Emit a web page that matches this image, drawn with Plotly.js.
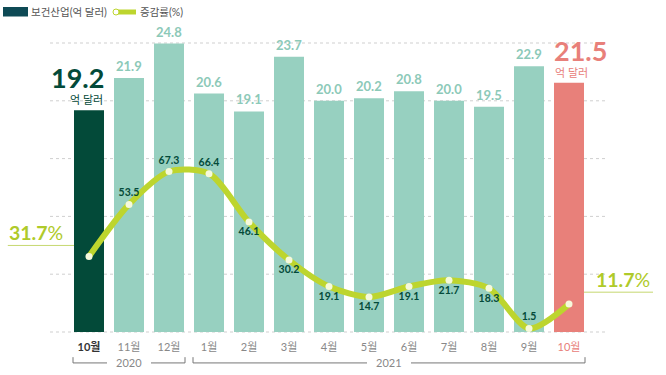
<!DOCTYPE html>
<html><head><meta charset="utf-8">
<script src="https://cdn.plot.ly/plotly-3.0.1.min.js"></script>
<style>body{margin:0;background:#fff}#c{width:666px;height:375px}</style>
</head><body><div id="c"></div>
<script>
const months = ["10월","11월","12월","1월","2월","3월","4월","5월","6월","7월","8월","9월","10월"];
const years = ["2020","2021"];
const yearStart = [0, 3];
const yearEnd = [2, 12];
const exports = [19.2, 21.9, 24.8, 20.6, 19.1, 23.7, 20.0, 20.2, 20.8, 20.0, 19.5, 22.9, 21.5];
const growth = [31.7, 53.5, 67.3, 66.4, 46.1, 30.2, 19.1, 14.7, 19.1, 21.7, 18.3, 1.5, 11.7];
const growthAbove = [false, true, true, true, false, false, false, false, false, false, false, true, false];

const DARK = '#034a39', TEAL = '#97d0c0', TEAL_TXT = '#8cc9b8', SALMON = '#e8807a', LIME = '#bdd52e';
const n = months.length;
const idx = months.map((m, i) => i);
const FONT = 'Lato, "Noto Sans CJK KR", sans-serif';

const barColors = idx.map(i => i === 0 ? DARK : (i === n - 1 ? SALMON : TEAL));
const lineText = growth.map((g, i) => (i === 0 || i === n - 1) ? '' : g.toFixed(1));
const linePos = growthAbove.map(a => a ? 'top center' : 'bottom center');

const ticktext = months.map((m, i) => i === 0 ? '<b style="color:#333">' + m + '</b>' :
  (i === n - 1 ? '<span style="color:' + SALMON + '">' + m + '</span>' : m));

const traces = [
  {type: 'bar', x: idx, y: exports, marker: {color: barColors}, width: 0.75, hoverinfo: 'skip', yaxis: 'y'},
  {type: 'scatter', mode: 'lines+markers+text', x: idx, y: growth, yaxis: 'y2',
   line: {color: LIME, width: 6, shape: 'spline', smoothing: 0.8},
   marker: {color: '#f6f9dc', size: 7},
   text: lineText, textposition: linePos,
   textfont: {family: FONT, size: 10.5, color: DARK, weight: 'bold'},
   cliponaxis: false, hoverinfo: 'skip'}
];

const annotations = [];
exports.forEach((v, i) => {
  if (i === 0 || i === n - 1) return;
  annotations.push({x: i, y: v, xref: 'x', yref: 'y', text: '<b>' + v.toFixed(1) + '</b>', showarrow: false,
    yanchor: 'bottom', yshift: 2, font: {family: FONT, size: 13, color: TEAL_TXT}});
});
// big labels for first and last bars
annotations.push({x: 0.4, y: exports[0], xref: 'x', yref: 'y', xanchor: 'right', yanchor: 'bottom', yshift: 2,
  text: '억 달러', showarrow: false, font: {family: FONT, size: 11, color: DARK}});
annotations.push({x: 0.43, y: exports[0], xref: 'x', yref: 'y', xanchor: 'right', yanchor: 'bottom', yshift: 14,
  text: '<b>' + exports[0].toFixed(1) + '</b>', showarrow: false, font: {family: FONT, size: 27, color: DARK}});
annotations.push({x: n - 1 - 0.4, y: exports[n - 1], xref: 'x', yref: 'y', xanchor: 'left', yanchor: 'bottom', yshift: 2,
  text: '억 달러', showarrow: false, font: {family: FONT, size: 11, color: SALMON}});
annotations.push({x: n - 1 - 0.43, y: exports[n - 1], xref: 'x', yref: 'y', xanchor: 'left', yanchor: 'bottom', yshift: 14,
  text: '<b>' + exports[n - 1].toFixed(1) + '</b>', showarrow: false, font: {family: FONT, size: 27, color: SALMON}});
// big growth labels
annotations.push({x: -2.05, y: growth[0] + 4.6, xref: 'x', yref: 'y2', xanchor: 'left', yanchor: 'bottom', yshift: -1,
  text: '<b>' + growth[0].toFixed(1) + '</b>%', showarrow: false, font: {family: FONT, size: 19.5, color: '#afca2a'}});
annotations.push({x: 14.08, y: growth[n - 1] + 5, xref: 'x', yref: 'y2', xanchor: 'right', yanchor: 'bottom', yshift: -1,
  text: '<b>' + growth[n - 1].toFixed(1) + '</b>%', showarrow: false, font: {family: FONT, size: 19.5, color: '#afca2a'}});

const shapes = [];
// dotted grid
for (let k = 0; k <= 5; k++) {
  shapes.push({type: 'line', xref: 'paper', yref: 'paper', x0: 50 / 666, x1: 607 / 666, y0: k / 5, y1: k / 5,
    line: {color: '#cfcfcf', width: 1, dash: 'dot'}, layer: 'below'});
}
// leader lines
shapes.push({type: 'path', xref: 'x', yref: 'y2',
  path: `M -2.03 ${growth[0] + 4.6} L -0.3 ${growth[0] + 4.6} L 0 ${growth[0]}`,
  line: {color: '#c6d870', width: 1}, layer: 'below'});
shapes.push({type: 'path', xref: 'x', yref: 'y2',
  path: `M ${n - 1} ${growth[n - 1]} L ${n - 1 + 0.33} ${growth[n - 1] + 5} L 14.1 ${growth[n - 1] + 5}`,
  line: {color: '#c6d870', width: 1}, layer: 'below'});

// year brackets
const yB = -0.107, yT = -0.087;
years.forEach((yr, j) => {
  const a = yearStart[j] - 0.4, b = yearEnd[j] + 0.4;
  const mid = (a + b) / 2;
  const gap = 0.55;
  shapes.push({type: 'path', xref: 'x', yref: 'paper',
    path: `M ${a} ${yT} L ${a} ${yB} L ${mid - gap} ${yB}`, line: {color: '#777', width: 1}});
  shapes.push({type: 'path', xref: 'x', yref: 'paper',
    path: `M ${mid + gap} ${yB} L ${b} ${yB} L ${b} ${yT}`, line: {color: '#777', width: 1}});
  annotations.push({x: mid, y: yB, xref: 'x', yref: 'paper', yanchor: 'middle', text: yr, showarrow: false,
    font: {family: FONT, size: 11, color: '#888'}});
});

// legend
const ly = 1 + (43 - 12) / 289;
shapes.push({type: 'rect', xref: 'paper', yref: 'paper', x0: 3 / 666, x1: 28 / 666,
  y0: 1 + (43 - 16.5) / 289, y1: 1 + (43 - 7) / 289, fillcolor: '#0e4a55', line: {width: 0}});
shapes.push({type: 'line', xref: 'paper', yref: 'paper', x0: 116 / 666, x1: 136 / 666,
  y0: ly, y1: ly, line: {color: LIME, width: 5}});
shapes.push({type: 'circle', xref: 'paper', yref: 'paper', x0: 113 / 666, x1: 119 / 666,
  y0: 1 + (43 - 15) / 289, y1: 1 + (43 - 9) / 289, fillcolor: '#ffffff', line: {color: LIME, width: 1}});
annotations.push({x: 29 / 666, y: ly, xref: 'paper', yref: 'paper', xanchor: 'left', yanchor: 'middle',
  text: '보건산업(억 달러)', showarrow: false, font: {family: FONT, size: 10.5, color: '#555'}});
annotations.push({x: 138 / 666, y: ly, xref: 'paper', yref: 'paper', xanchor: 'left', yanchor: 'middle',
  text: '증감률(%)', showarrow: false, font: {family: FONT, size: 10.5, color: '#555'}});

const layout = {
  width: 666, height: 375,
  margin: {l: 0, r: 0, t: 43, b: 43},
  paper_bgcolor: '#fff', plot_bgcolor: 'rgba(0,0,0,0)',
  showlegend: false,
  font: {family: FONT},
  xaxis: {range: [-2.225, 14.425], tickvals: idx, ticktext: ticktext, showgrid: false, zeroline: false,
    showline: false, ticks: '', ticklabelstandoff: 7, tickfont: {family: FONT, size: 11, color: '#888'}, fixedrange: true},
  yaxis: {range: [0.55, 24.85], visible: false, fixedrange: true},
  yaxis2: {range: [0, 121.2], overlaying: 'y', visible: false, fixedrange: true},
  shapes: shapes,
  annotations: annotations
};
Plotly.newPlot('c', traces, layout, {displayModeBar: false, staticPlot: true});
</script></body></html>
